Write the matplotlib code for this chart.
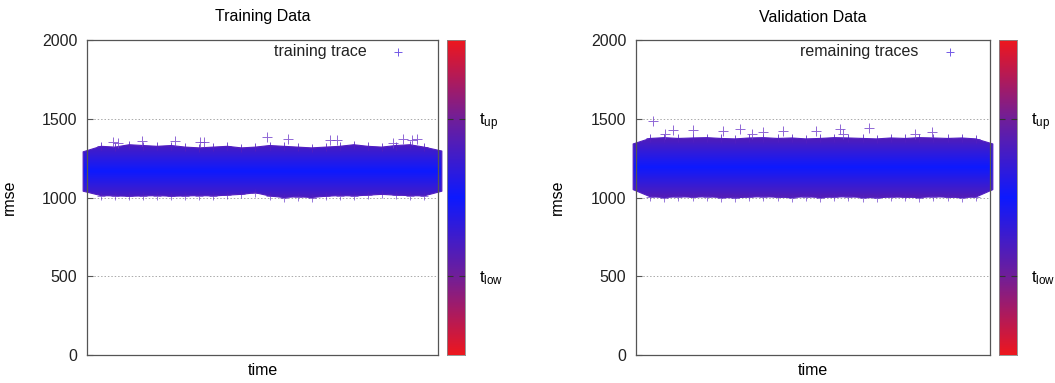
import numpy as np
import matplotlib.pyplot as plt
from matplotlib.colors import LinearSegmentedColormap

plt.rcParams["font.family"] = ["Liberation Sans", "DejaVu Sans"]
plt.rcParams["mathtext.default"] = "regular"
plt.rcParams["font.size"] = 11.5

# envelope of the dense point cloud (time normalised to 0..1)
train_time = [-0.011, 0.04, 0.08, 0.12, 0.16, 0.20, 0.24, 0.28, 0.32, 0.36, 0.40, 0.44, 0.48,
              0.52, 0.56, 0.60, 0.64, 0.68, 0.72, 0.76, 0.80, 0.84, 0.88, 0.92, 0.96, 1.011]
train_upper = [1290, 1325, 1320, 1335, 1330, 1325, 1330, 1320, 1315, 1320, 1325, 1315, 1320,
               1330, 1325, 1320, 1315, 1320, 1325, 1335, 1325, 1320, 1330, 1335, 1320, 1295]
train_lower = [1040, 1012, 1010, 1008, 1010, 1012, 1008, 1010, 1012, 1010, 1015, 1020, 1030,
               1010, 1000, 1005, 1000, 1008, 1012, 1010, 1015, 1020, 1015, 1012, 1010, 1040]
train_out_t = [0.074, 0.088, 0.157, 0.251, 0.322, 0.333, 0.513, 0.573, 0.692, 0.712, 0.872, 0.900, 0.926, 0.940]
train_out_v = [1353, 1345, 1360, 1360, 1352, 1352, 1384, 1370, 1365, 1365, 1346, 1370, 1368, 1371]

val_time = [-0.008, 0.04, 0.08, 0.12, 0.16, 0.20, 0.24, 0.28, 0.32, 0.36, 0.40, 0.44, 0.48,
            0.52, 0.56, 0.60, 0.64, 0.68, 0.72, 0.76, 0.80, 0.84, 0.88, 0.92, 0.96, 1.008]
val_upper = [1340, 1375, 1380, 1375, 1378, 1380, 1375, 1372, 1378, 1380, 1375, 1378, 1372,
             1375, 1380, 1378, 1375, 1372, 1378, 1375, 1380, 1378, 1375, 1378, 1372, 1340]
val_lower = [1050, 1005, 1000, 1005, 1002, 1005, 1000, 998, 1003, 1005, 1002, 1000, 1005,
             1000, 1003, 1005, 1000, 998, 1003, 1002, 1000, 1005, 1002, 1000, 1003, 1050]
val_out_t = [0.048, 0.082, 0.105, 0.161, 0.246, 0.294, 0.328, 0.359, 0.415, 0.508, 0.576, 0.585, 0.658, 0.788, 0.836]
val_out_v = [1488, 1403, 1428, 1428, 1422, 1435, 1405, 1413, 1422, 1422, 1435, 1405, 1441, 1405, 1416]

yticks = [0, 500, 1000, 1500, 2000]
cb_ticks = [500, 1500]
cb_labels = [r"$t_{low}$", r"$t_{up}$"]

rbr = LinearSegmentedColormap.from_list(
    "rbr",
    [(0.0, (0.93, 0.09, 0.12)), (0.25, (0.44, 0.12, 0.60)), (0.5, (0.05, 0.10, 1.0)),
     (0.75, (0.44, 0.12, 0.60)), (1.0, (0.93, 0.09, 0.12))],
)
EDGE = (0.32, 0.12, 0.76)


def draw_panel(fig, ax_rect, cb_rect, title, legend_label, t, upper, lower, out_t, out_v, center):
    ax = fig.add_axes(ax_rect)
    ax.set_xlim(0, 1)
    ax.set_ylim(0, 2000)
    ax.set_yticks(yticks)
    ax.set_xticks([])
    ax.tick_params(axis="y", direction="in", length=4, pad=7, colors="#555555",
                   labelcolor="#222222", labelsize=11.5)
    for s in ax.spines.values():
        s.set_color("#555555")
        s.set_linewidth(0.9)
    ax.set_axisbelow(True)
    for g in [500, 1000, 1500]:
        ax.axhline(g, color="#aaaaaa", lw=0.7, ls=(0, (1.5, 2)), zorder=0)

    # band with value-dependent colour
    poly = ax.fill_between(t, lower, upper, facecolor="none", edgecolor=EDGE, lw=0.8, zorder=2)
    poly.set_clip_box(fig.bbox)
    ys = np.linspace(900, 1500, 300)
    c = 0.5 + np.abs(ys - center) / 160 * 0.15
    img = rbr(c)[:, None, :]
    im = ax.imshow(img, extent=[-0.05, 1.05, 900, 1500], origin="lower", aspect="auto", zorder=1,
                   interpolation="bilinear")
    im.set_clip_box(fig.bbox)
    im.set_clip_path(poly.get_paths()[0], ax.transData)
    ax.set_xlim(0, 1)
    ax.set_ylim(0, 2000)

    ax.plot(t[1:-1], upper[1:-1], "+", color=EDGE, ms=6, mew=0.7, alpha=0.8, zorder=3)
    ax.plot(t[1:-1], lower[1:-1], "+", color=EDGE, ms=6, mew=0.7, alpha=0.6, zorder=3)
    ax.plot(out_t, out_v, "+", color=(0.45, 0.25, 0.80), ms=7, mew=0.7, alpha=0.8, zorder=3)

    # key
    ax.text(0.798, 0.962, legend_label, transform=ax.transAxes, ha="right", va="center",
            fontsize=11.5, color="#222222")
    ax.plot([0.886], [0.962], "+", transform=ax.transAxes, color=(0.45, 0.35, 0.9), ms=6, mew=0.7)

    ax.set_xlabel("time", fontsize=11.5)
    ax.xaxis.set_label_coords(0.5, -0.025)
    ax.set_ylabel("rmse", fontsize=11.5)
    ax.yaxis.set_label_coords(-0.2, 0.5)
    fig.text(ax_rect[0] + ax_rect[2] / 2, 1 - 17 / 383, title, ha="center", va="center", fontsize=11.5)

    # colour box
    cax = fig.add_axes(cb_rect)
    grad = np.linspace(0, 1, 256)[:, None]
    cax.imshow(grad, cmap=rbr, aspect="auto", extent=[0, 1, 0, 2000], origin="lower")
    cax.set_xlim(0, 1)
    cax.set_ylim(0, 2000)
    cax.set_xticks([])
    cax.set_yticks(cb_ticks)
    cax.set_yticklabels(cb_labels, fontsize=12)
    cax.tick_params(axis="y", direction="in", length=4, left=True, right=True, labelleft=False,
                    labelright=True, pad=10, color="#333333")
    for s in cax.spines.values():
        s.set_color("#888888")
        s.set_linewidth(0.6)
    return ax


def main():
    fig = plt.figure(figsize=(10.55, 3.83), dpi=100)
    W, H = 1055, 383
    bottom = 1 - 355 / H
    height = 315 / H

    draw_panel(fig, [87 / W, bottom, 351 / W, height], [447 / W, bottom, 18 / W, height],
               "Training Data", "training trace", train_time, train_upper, train_lower,
               train_out_t, train_out_v, 1165)
    draw_panel(fig, [636 / W, bottom, 354 / W, height], [999 / W, bottom, 18 / W, height],
               "Validation Data", "remaining traces", val_time, val_upper, val_lower,
               val_out_t, val_out_v, 1190)

    fig.savefig("out.png", dpi=100)
    plt.close(fig)


if __name__ == "__main__":
    main()
